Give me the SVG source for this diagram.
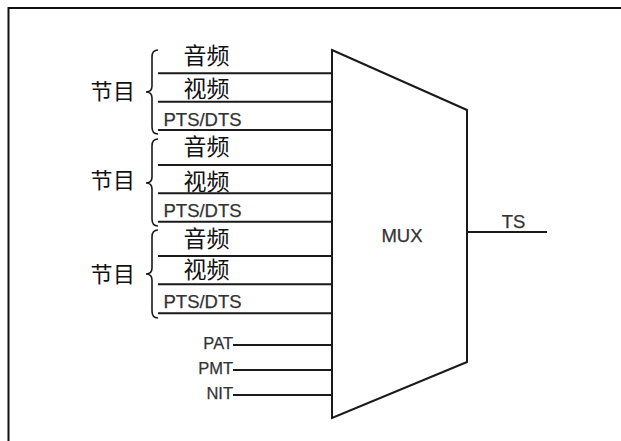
<svg xmlns="http://www.w3.org/2000/svg" width="621" height="441" viewBox="0 0 621 441">
<style>
.ln{stroke:#1a1a1a;stroke-width:2;fill:none}
.br{stroke:#1a1a1a;stroke-width:1.6;fill:none}
.cn{font-family:"Noto Sans CJK SC","Noto Sans",sans-serif;font-size:22px;fill:#111}
.cj{font-family:"Noto Sans CJK SC","Noto Sans",sans-serif;font-size:23px;fill:#111;text-anchor:middle}
.la{font-family:"Liberation Sans",Arial,sans-serif;fill:#333;stroke:#333;stroke-width:0.25}
</style>
<rect width="621" height="441" fill="#fff"/>
<path d="M8.5,441 V8 H621" fill="none" stroke="#111" stroke-width="2"/>
<g id="mux">
<path class="ln" d="M332,50 L467,110 L467,362 L332,418 Z" fill="#fff"/>
<text class="la" x="402" y="241.5" font-size="18.5" text-anchor="middle">MUX</text>
</g>
<g id="connectors">
<path class="ln" d="M158,73.3H332M158,101.7H332M158,130H332M158,165H332M158,193.3H332M158,221.7H332M158,256H332M158,284.3H332M158,313.3H332"/>
<path class="ln" d="M233,345H332M233,370H332M233,395H332"/>
<path class="ln" d="M467,232H547"/>
</g>
<g id="program1">
<path class="br" d="M158,50 Q152,50 152,57 V86 Q152,92 146,92 Q152,92 152,98 V127 Q152,134 158,134"/>
<text class="cn" x="90.5" y="99" letter-spacing="0.5">节目</text>
<text class="cj" x="206.5" y="63.8">音频</text>
<text class="cj" x="206.5" y="97">视频</text>
<text class="la" x="163.5" y="125.7" font-size="18.5">PTS/DTS</text>
</g>
<g id="program2">
<path class="br" d="M158,139 Q152,139 152,146 V177 Q152,183 146,183 Q152,183 152,189 V219 Q152,226 158,226"/>
<text class="cn" x="90.5" y="188" letter-spacing="0.5">节目</text>
<text class="cj" x="206.5" y="155.3">音频</text>
<text class="cj" x="206.5" y="190.3">视频</text>
<text class="la" x="163.5" y="216.7" font-size="18.5">PTS/DTS</text>
</g>
<g id="program3">
<path class="br" d="M158,230 Q152,230 152,237 V268 Q152,274 146,274 Q152,274 152,280 V311 Q152,318 158,318"/>
<text class="cn" x="90.5" y="281.5" letter-spacing="0.5">节目</text>
<text class="cj" x="206.5" y="247">音频</text>
<text class="cj" x="206.5" y="277.8">视频</text>
<text class="la" x="163.5" y="308.3" font-size="18.5">PTS/DTS</text>
</g>
<g id="tables">
<text class="la" x="233" y="349" font-size="16.5" text-anchor="end">PAT</text>
<text class="la" x="233" y="374" font-size="16.5" text-anchor="end">PMT</text>
<text class="la" x="233" y="399" font-size="16.5" text-anchor="end">NIT</text>
</g>
<g id="ts">
<text class="la" x="513.5" y="228.3" font-size="18.5" text-anchor="middle">TS</text>
</g>
</svg>
